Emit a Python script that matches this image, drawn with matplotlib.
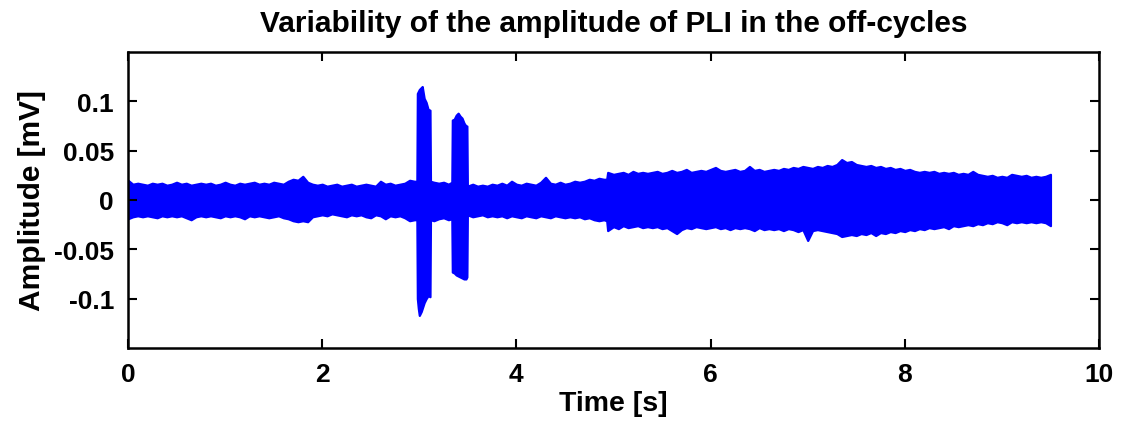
import matplotlib
matplotlib.use("Agg")
import matplotlib.pyplot as plt
import numpy as np

# Envelope of the PLI signal (time in s, amplitude in mV)
time_s = [
    0.00, 0.05, 0.10, 0.15, 0.20, 0.25, 0.30, 0.35, 0.40, 0.45,
    0.50, 0.55, 0.60, 0.65, 0.70, 0.75, 0.80, 0.85, 0.90, 0.95,
    1.00, 1.05, 1.10, 1.15, 1.20, 1.25, 1.30, 1.35, 1.40, 1.45,
    1.50, 1.55, 1.60, 1.65, 1.70, 1.75, 1.80, 1.85, 1.90, 1.95,
    2.00, 2.05, 2.10, 2.15, 2.20, 2.25, 2.30, 2.35, 2.40, 2.45,
    2.50, 2.55, 2.60, 2.65, 2.70, 2.75, 2.80, 2.85, 2.90, 2.95,
    2.975, 2.98, 2.99, 3.00, 3.02, 3.03, 3.05, 3.07, 3.09, 3.11,
    3.115, 3.15, 3.20, 3.25, 3.30, 3.335,
    3.34, 3.36, 3.38, 3.40, 3.42, 3.44, 3.46, 3.48, 3.49, 3.495,
    3.55, 3.60, 3.65, 3.70, 3.75, 3.80, 3.85, 3.90, 3.95,
    4.00, 4.05, 4.10, 4.15, 4.20, 4.25, 4.30, 4.35, 4.40, 4.45,
    4.50, 4.55, 4.60, 4.65, 4.70, 4.75, 4.80, 4.85, 4.90, 4.93,
    4.94, 5.00, 5.05, 5.10, 5.15, 5.20, 5.25, 5.30, 5.35,
    5.40, 5.45, 5.50, 5.55, 5.60, 5.65, 5.70, 5.75, 5.80, 5.85,
    5.90, 5.95, 6.00, 6.05, 6.10, 6.15, 6.20, 6.25, 6.30, 6.35,
    6.40, 6.45, 6.50, 6.55, 6.60, 6.65, 6.70, 6.75, 6.80, 6.85,
    6.90, 6.95, 7.00, 7.05, 7.10, 7.15, 7.20, 7.25, 7.30, 7.35,
    7.40, 7.45, 7.50, 7.55, 7.60, 7.65, 7.70, 7.75, 7.80, 7.85,
    7.90, 7.95, 8.00, 8.05, 8.10, 8.15, 8.20, 8.25, 8.30, 8.35,
    8.40, 8.45, 8.50, 8.55, 8.60, 8.65, 8.70, 8.75, 8.80, 8.85,
    8.90, 8.95, 9.00, 9.05, 9.10, 9.15, 9.20, 9.25, 9.30, 9.35,
    9.40, 9.45, 9.50,
]
upper_mv = [
    0.020, 0.016, 0.017, 0.016, 0.015, 0.017, 0.016, 0.017, 0.015, 0.016,
    0.018, 0.016, 0.017, 0.015, 0.016, 0.017, 0.016, 0.017, 0.015, 0.016,
    0.018, 0.016, 0.015, 0.017, 0.016, 0.017, 0.018, 0.016, 0.017, 0.016,
    0.018, 0.017, 0.016, 0.019, 0.021, 0.020, 0.024, 0.018, 0.016, 0.015,
    0.016, 0.014, 0.015, 0.016, 0.014, 0.015, 0.016, 0.014, 0.015, 0.016,
    0.015, 0.014, 0.019, 0.016, 0.017, 0.015, 0.016, 0.017, 0.020, 0.019,
    0.019, 0.108, 0.110, 0.112, 0.114, 0.115, 0.103, 0.099, 0.092, 0.091,
    0.019, 0.018, 0.017, 0.018, 0.016, 0.018,
    0.081, 0.082, 0.086, 0.088, 0.085, 0.083, 0.078, 0.075, 0.075, 0.014,
    0.016, 0.014, 0.015, 0.014, 0.016, 0.015, 0.017, 0.015, 0.019,
    0.016, 0.015, 0.017, 0.016, 0.015, 0.018, 0.023, 0.017, 0.016, 0.018,
    0.016, 0.017, 0.019, 0.018, 0.019, 0.021, 0.020, 0.022, 0.021, 0.021,
    0.028, 0.026, 0.027, 0.028, 0.026, 0.029, 0.027, 0.028, 0.027,
    0.028, 0.029, 0.027, 0.028, 0.030, 0.028, 0.029, 0.031, 0.028, 0.029,
    0.030, 0.029, 0.031, 0.033, 0.030, 0.029, 0.030, 0.031, 0.029, 0.030,
    0.034, 0.030, 0.031, 0.029, 0.030, 0.031, 0.030, 0.032, 0.031, 0.033,
    0.032, 0.034, 0.033, 0.032, 0.034, 0.033, 0.035, 0.034, 0.036, 0.041,
    0.038, 0.039, 0.036, 0.035, 0.034, 0.035, 0.033, 0.034, 0.032, 0.033,
    0.031, 0.032, 0.030, 0.031, 0.029, 0.028, 0.029, 0.028, 0.029, 0.027,
    0.028, 0.027, 0.028, 0.026, 0.027, 0.026, 0.029, 0.026, 0.025, 0.024,
    0.025, 0.023, 0.024, 0.023, 0.026, 0.025, 0.024, 0.025, 0.023, 0.024,
    0.023, 0.024, 0.026,
]
lower_mv = [
    -0.019, -0.017, -0.016, -0.017, -0.016, -0.017, -0.018, -0.016, -0.017, -0.016,
    -0.017, -0.016, -0.018, -0.020, -0.017, -0.016, -0.017, -0.016, -0.017, -0.018,
    -0.016, -0.017, -0.016, -0.017, -0.019, -0.016, -0.017, -0.016, -0.017, -0.018,
    -0.017, -0.016, -0.018, -0.019, -0.021, -0.022, -0.021, -0.022, -0.017, -0.016,
    -0.015, -0.016, -0.014, -0.015, -0.016, -0.017, -0.015, -0.016, -0.015, -0.017,
    -0.018, -0.015, -0.016, -0.019, -0.016, -0.017, -0.016, -0.018, -0.021, -0.020,
    -0.020, -0.100, -0.110, -0.117, -0.113, -0.110, -0.104, -0.100, -0.097, -0.098,
    -0.020, -0.021, -0.019, -0.018, -0.020, -0.019,
    -0.073, -0.074, -0.076, -0.077, -0.078, -0.079, -0.080, -0.080, -0.078, -0.015,
    -0.017, -0.016, -0.015, -0.017, -0.016, -0.017, -0.016, -0.018, -0.016,
    -0.017, -0.018, -0.016, -0.017, -0.018, -0.016, -0.017, -0.018, -0.016, -0.017,
    -0.018, -0.017, -0.018, -0.017, -0.019, -0.018, -0.020, -0.021, -0.020, -0.021,
    -0.031, -0.027, -0.029, -0.026, -0.028, -0.027, -0.026, -0.028, -0.027,
    -0.028, -0.027, -0.029, -0.028, -0.031, -0.034, -0.030, -0.028, -0.029, -0.027,
    -0.028, -0.029, -0.028, -0.027, -0.029, -0.028, -0.030, -0.028, -0.029, -0.028,
    -0.029, -0.031, -0.028, -0.030, -0.029, -0.030, -0.029, -0.031, -0.029, -0.030,
    -0.032, -0.030, -0.041, -0.031, -0.030, -0.031, -0.032, -0.033, -0.034, -0.037,
    -0.036, -0.035, -0.036, -0.034, -0.035, -0.033, -0.036, -0.033, -0.034, -0.032,
    -0.033, -0.031, -0.032, -0.030, -0.031, -0.029, -0.030, -0.028, -0.029, -0.028,
    -0.027, -0.029, -0.026, -0.027, -0.026, -0.025, -0.026, -0.024, -0.025, -0.023,
    -0.024, -0.022, -0.023, -0.025, -0.022, -0.023, -0.022, -0.023, -0.022, -0.023,
    -0.022, -0.023, -0.026,
]

x_ticks = [0, 2, 4, 6, 8, 10]
y_ticks = [-0.1, -0.05, 0, 0.05, 0.1]
y_tick_labels = ["-0.1", "-0.05", "0", "0.05", "0.1"]

title_text = "Variability of the amplitude of PLI in the off-cycles"
x_label = "Time [s]"
y_label = "Amplitude [mV]"

plt.rcParams['font.family'] = ['Liberation Sans', 'DejaVu Sans']
plt.rcParams['font.weight'] = 'bold'

fig = plt.figure(figsize=(11.23, 4.27), dpi=100)
ax = fig.add_axes([128 / 1123, 78 / 427, (1099 - 128) / 1123, (349 - 53) / 427])

blue = (0, 0, 1)
ax.fill_between(time_s, lower_mv, upper_mv, color=blue, linewidth=1.6,
                edgecolor=blue, joinstyle='round')

ax.set_xlim(0, 10)
ax.set_ylim(-0.15, 0.15)
ax.set_xticks(x_ticks)
ax.set_xticklabels([str(v) for v in x_ticks])
ax.set_yticks(y_ticks)
ax.set_yticklabels(y_tick_labels)

ax.tick_params(direction='in', length=6.5, width=1.5, top=True, right=True,
               labelsize=19, pad=10)
for lab in ax.get_xticklabels() + ax.get_yticklabels():
    lab.set_fontweight('bold')
for sp in ax.spines.values():
    sp.set_linewidth(1.8)

ax.set_title(title_text, fontsize=21.5, fontweight='bold', pad=15)
ax.set_xlabel(x_label, fontsize=20.5, fontweight='bold', labelpad=3)
ax.set_ylabel(y_label, fontsize=21.5, fontweight='bold', labelpad=6)

fig.savefig("out.png", dpi=100)
